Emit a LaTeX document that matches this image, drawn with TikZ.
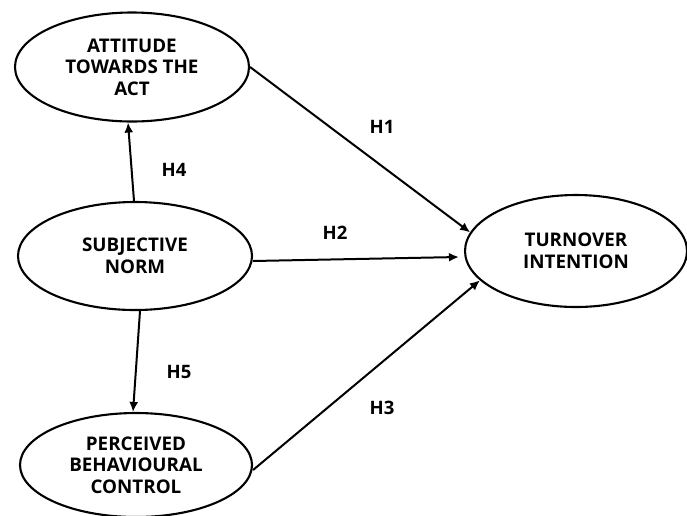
\documentclass[tikz,border=0pt]{standalone}
\usepackage{fontspec}
\setmainfont{Open Sans}
\usetikzlibrary{shapes.geometric,arrows.meta}
\begin{document}
\begin{tikzpicture}[x=1pt,y=-1pt,
  construct/.style={ellipse,draw,line width=2.1pt,inner sep=0pt,align=center,
    font=\fontsize{18.8}{21.5}\selectfont\bfseries},
  arr/.style={line width=2pt,-{Latex[length=10pt,width=9pt]}},
  hyp/.style={font=\fontsize{18.5}{20}\selectfont\bfseries}]
\useasboundingbox[fill=white] (0,0) rectangle (687,515);
\node[construct,minimum width=234pt,minimum height=109pt] (att) at (132,67) {ATTITUDE\\TOWARDS THE\\ACT};
\node[construct,minimum width=234pt,minimum height=108pt] (sn) at (135,256) {SUBJECTIVE\\NORM};
\node[construct,minimum width=232pt,minimum height=104pt] (pbc) at (136,465) {PERCEIVED\\BEHAVIOURAL\\CONTROL};
\node[construct,minimum width=222pt,minimum height=112pt] (ti) at (576,251) {TURNOVER\\INTENTION};
\draw[arr] ([xshift=-1pt]sn.north) -- ([xshift=-4pt]att.south);
\draw[arr] ([xshift=5pt]sn.south) -- ([xshift=-3pt]pbc.north);
\draw[arr] (att.east) -- (ti.170);
\draw[arr] ([yshift=-5pt]sn.east) -- ([xshift=-5pt,yshift=-6pt]ti.west);
\draw[arr] ([yshift=-5pt]pbc.east) -- (ti.197);
\node[hyp] (h1) at (382,127) {H1};
\node[hyp] (h2) at (335,233) {H2};
\node[hyp] (h3) at (382,408) {H3};
\node[hyp] (h4) at (174,170) {H4};
\node[hyp] (h5) at (179,372) {H5};
\end{tikzpicture}
\end{document}
